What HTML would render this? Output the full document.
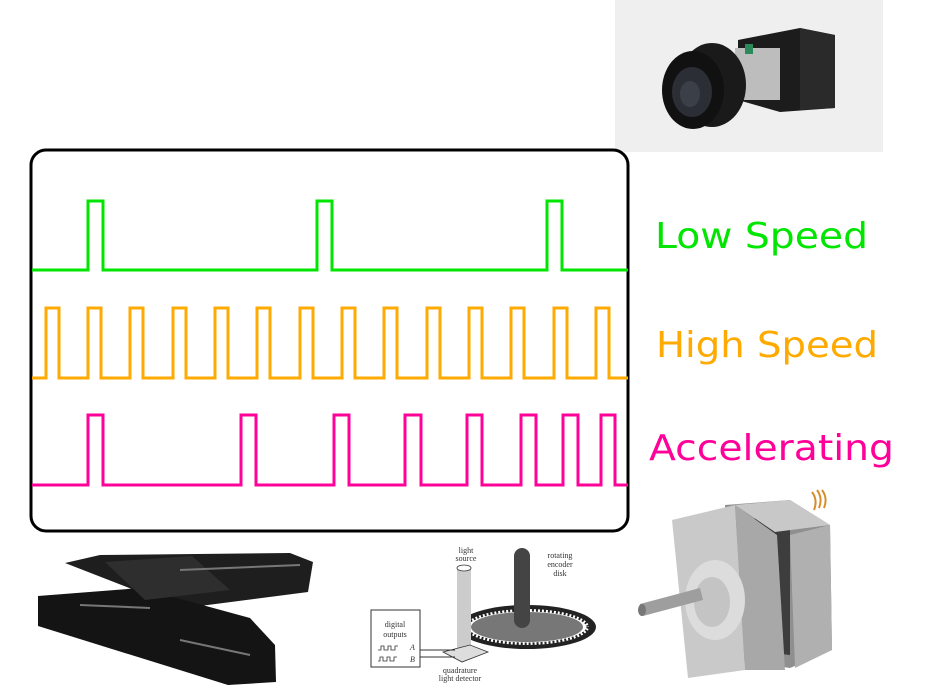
<!DOCTYPE html>
<html><head><meta charset="utf-8"><style>
html,body{margin:0;padding:0;background:#fff;width:940px;height:688px;overflow:hidden}
svg{display:block}
</style></head><body>
<svg width="940" height="688" viewBox="0 0 940 688" xmlns="http://www.w3.org/2000/svg">
<!-- camera photo -->
<rect x="615" y="0" width="268" height="152" fill="#efefef"/>
<polygon points="738,40 800,28 835,35 835,108 780,112 738,100" fill="#1c1c1c"/>
<polygon points="800,28 835,35 835,108 800,110" fill="#2a2a2a"/>
<rect x="735" y="48" width="45" height="52" fill="#bdbdbd"/>
<rect x="745" y="44" width="8" height="10" fill="#2a8a5a"/>
<ellipse cx="712" cy="85" rx="34" ry="42" fill="#1a1a1a"/>
<ellipse cx="693" cy="90" rx="31" ry="39" fill="#111"/>
<ellipse cx="692" cy="92" rx="20" ry="25" fill="#2b2f35"/>
<ellipse cx="690" cy="94" rx="10" ry="13" fill="#3b4048"/>
<!-- main box -->
<rect x="31" y="150" width="597" height="381" rx="15" ry="15" fill="none" stroke="#000" stroke-width="3"/>
<path d="M32 270 H88 V201 H103 V270 H317 V201 H332 V270 H547 V201 H562 V270 H628" fill="none" stroke="#00e600" stroke-width="3"/>
<path d="M32 378 H46 V308 H59 V378 H88 V308 H101 V378 H130 V308 H143 V378 H173 V308 H186 V378 H215 V308 H228 V378 H257 V308 H270 V378 H300 V308 H313 V378 H342 V308 H355 V378 H384 V308 H397 V378 H427 V308 H440 V378 H469 V308 H482 V378 H511 V308 H524 V378 H554 V308 H567 V378 H596 V308 H609 V378 H628" fill="none" stroke="#ffaa00" stroke-width="3"/>
<path d="M32 485 H88 V415 H103 V485 H241 V415 H256 V485 H334 V415 H349 V485 H405 V415 H421 V485 H467 V415 H482 V485 H521 V415 H536 V485 H563 V415 H578 V485 H601 V415 H615 V485 H628" fill="none" stroke="#ff0099" stroke-width="3"/>
<!-- labels -->
<g font-family="'DejaVu Sans', 'Liberation Sans', sans-serif" font-size="36">
<text x="655" y="248" fill="#00e600" textLength="213" lengthAdjust="spacingAndGlyphs">Low Speed</text>
<text x="656" y="357" fill="#ffaa00" textLength="222" lengthAdjust="spacingAndGlyphs">High Speed</text>
<text x="649" y="460" fill="#ff0099" textLength="245" lengthAdjust="spacingAndGlyphs">Accelerating</text>
</g>
<!-- stage -->
<polygon points="65,563 100,555 290,553 313,562 308,592 200,606 160,600" fill="#1e1e1e"/>
<polygon points="38,596 140,588 250,618 275,645 276,682 228,685 38,626" fill="#141414"/>
<polygon points="105,562 192,556 230,590 145,600" fill="#2e2e2e"/>
<path d="M180 570 L300 565 M80 605 L150 608 M180 640 L250 655" stroke="#777" stroke-width="2"/>
<!-- encoder diagram -->
<rect x="371" y="610" width="49" height="57" fill="#fff" stroke="#333" stroke-width="1"/>
<text x="395" y="627" font-family="'Liberation Serif',serif" font-size="8" text-anchor="middle" fill="#333">digital</text>
<text x="395" y="637" font-family="'Liberation Serif',serif" font-size="8" text-anchor="middle" fill="#333">outputs</text>
<text x="410" y="650" font-family="'Liberation Serif',serif" font-size="8" font-style="italic" fill="#333">A</text>
<text x="410" y="662" font-family="'Liberation Serif',serif" font-size="8" font-style="italic" fill="#333">B</text>
<path d="M378 650 h3 v-4 h3 v4 h4 v-4 h3 v4 h4 v-4 h3 M378 661 h2 v-4 h3 v4 h4 v-4 h3 v4 h4 v-4 h3" fill="none" stroke="#333" stroke-width="0.8"/>
<ellipse cx="527" cy="627" rx="69" ry="22" fill="#222"/>
<ellipse cx="527" cy="627" rx="62" ry="18" fill="#fff" stroke="#222" stroke-dasharray="2 2" stroke-width="5"/>
<ellipse cx="527" cy="627" rx="56" ry="15" fill="#777"/>
<rect x="514" y="548" width="16" height="80" rx="8" fill="#444"/>
<rect x="457" y="568" width="14" height="80" fill="#ccc"/>
<ellipse cx="464" cy="568" rx="7" ry="3" fill="#fff" stroke="#333" stroke-width="0.8"/>
<polygon points="443,652 470,645 488,652 462,662" fill="#ddd" stroke="#333" stroke-width="0.8"/>
<path d="M420 650 H455 M420 657 H455" stroke="#333" stroke-width="1"/>
<g font-family="'Liberation Serif',serif" font-size="8" fill="#333" text-anchor="middle">
<text x="466" y="553">light</text><text x="466" y="561">source</text>
<text x="560" y="558">rotating</text><text x="560" y="567">encoder</text><text x="560" y="576">disk</text>
<text x="460" y="673">quadrature</text><text x="460" y="681">light detector</text>
</g>
<!-- motor -->
<path d="M812 492 q6 8 2 18 M817 490 q6 8 2 18 M822 490 q6 8 2 18" stroke="#d98c2a" stroke-width="2" fill="none"/>
<polygon points="725,505 790,500 830,525 832,650 790,668 735,660" fill="#8f8f8f"/>
<polygon points="740,520 790,515 790,655 745,650" fill="#3d3d3d"/>
<polygon points="735,505 790,500 830,525 775,532" fill="#c8c8c8"/>
<polygon points="790,535 830,525 832,650 795,668" fill="#b0b0b0"/>
<polygon points="672,520 735,505 745,670 688,678" fill="#c9c9c9"/>
<polygon points="735,505 777,535 785,670 745,670" fill="#a8a8a8"/>
<ellipse cx="715" cy="600" rx="30" ry="40" fill="#dcdcdc"/>
<ellipse cx="712" cy="602" rx="18" ry="25" fill="#c4c4c4"/>
<polygon points="640,604 700,588 703,600 643,616" fill="#9e9e9e"/>
<ellipse cx="642" cy="610" rx="4" ry="6" fill="#777"/>
</svg>
</body></html>
